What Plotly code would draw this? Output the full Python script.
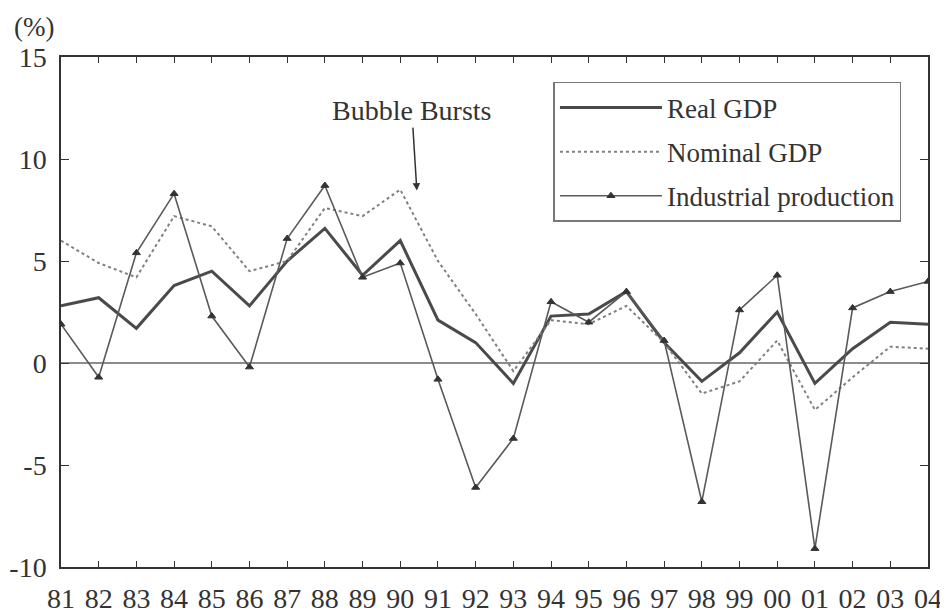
import plotly.graph_objects as go

years = ["81", "82", "83", "84", "85", "86", "87", "88", "89", "90", "91", "92",
         "93", "94", "95", "96", "97", "98", "99", "00", "01", "02", "03", "04"]
real_gdp = [2.8, 3.2, 1.7, 3.8, 4.5, 2.8, 5.0, 6.6, 4.3, 6.0, 2.1, 1.0,
            -1.0, 2.3, 2.4, 3.5, 1.0, -0.9, 0.5, 2.5, -1.0, 0.7, 2.0, 1.9]
nominal_gdp = [6.0, 4.9, 4.2, 7.2, 6.7, 4.5, 5.0, 7.6, 7.2, 8.5, 5.0, 2.4,
               -0.4, 2.1, 1.9, 2.8, 1.0, -1.5, -0.9, 1.1, -2.3, -0.7, 0.8, 0.7]
industrial = [1.9, -0.7, 5.4, 8.3, 2.3, -0.2, 6.1, 8.7, 4.2, 4.9, -0.8, -6.1,
              -3.7, 3.0, 2.0, 3.5, 1.1, -6.8, 2.6, 4.3, -9.1, 2.7, 3.5, 4.0]
y_ticks = [-10, -5, 0, 5, 10, 15]
y_tick_labels = ["-10", "-5", "0", "5", "10", "15"]

xs = list(range(len(years)))
FONT = "Liberation Serif"
TXT = "#333333"

fig = go.Figure()
fig.add_trace(go.Scatter(x=xs, y=real_gdp, name="Real GDP", mode="lines",
                         legendgroup="a",
                         line=dict(color="#4a4a4a", width=3)))
fig.add_trace(go.Scatter(x=xs, y=nominal_gdp, name="Nominal GDP", mode="lines",
                         legendgroup="b",
                         line=dict(color="#808080", width=2, dash="dot")))
fig.add_trace(go.Scatter(x=xs, y=industrial, name="Industrial production",
                         mode="lines+markers", legendgroup="c",
                         line=dict(color="#5a5a5a", width=1.6),
                         marker=dict(symbol="triangle-up", size=7, color="#333333",
                                     line=dict(color="#333333", width=1))))

fig.add_hline(y=0, line=dict(color="#666666", width=1.6), layer="below")

fig.add_annotation(x=9.44, y=8.45, xref="x", yref="y", text="Bubble Bursts",
                   showarrow=True, ax=-5, ay=-80, arrowhead=2, arrowsize=1,
                   arrowwidth=1.5, arrowcolor="#333333",
                   font=dict(family=FONT, size=28, color=TXT))
fig.add_annotation(x=-0.031, y=1.059, xref="paper", yref="paper", text="(%)",
                   showarrow=False, xanchor="center", yanchor="middle",
                   font=dict(family=FONT, size=27, color=TXT))

fig.update_layout(
    width=940, height=606,
    margin=dict(l=53, r=20, t=49, b=47, autoexpand=False),
    paper_bgcolor="white", plot_bgcolor="white",
    font=dict(family=FONT, size=27, color=TXT),
    showlegend=True,
    legend=dict(x=0.568, y=0.951, xanchor="left", yanchor="top",
                bgcolor="white", bordercolor="#777777", borderwidth=1.5,
                font=dict(family=FONT, size=27, color=TXT),
                itemwidth=102, tracegroupgap=6),
    xaxis=dict(range=[0, 23], tickmode="array", tickvals=xs, ticktext=years,
               automargin=False, ticklabelstandoff=6,
               showgrid=False, zeroline=False, showline=True, mirror="ticks",
               linecolor="#333333", linewidth=1.5, ticks="inside", ticklen=6,
               tickcolor="#333333", tickwidth=1.2,
               tickfont=dict(family=FONT, size=28, color=TXT)),
    yaxis=dict(range=[-10, 15], tickmode="array", tickvals=y_ticks,
               ticktext=y_tick_labels, automargin=False, ticklabelstandoff=7,
               showgrid=False, zeroline=False, showline=True, mirror="ticks",
               linecolor="#333333", linewidth=1.5, ticks="inside", ticklen=8,
               tickcolor="#333333", tickwidth=1.2,
               tickfont=dict(family=FONT, size=28, color=TXT)),
)

fig.write_html("out.html")
